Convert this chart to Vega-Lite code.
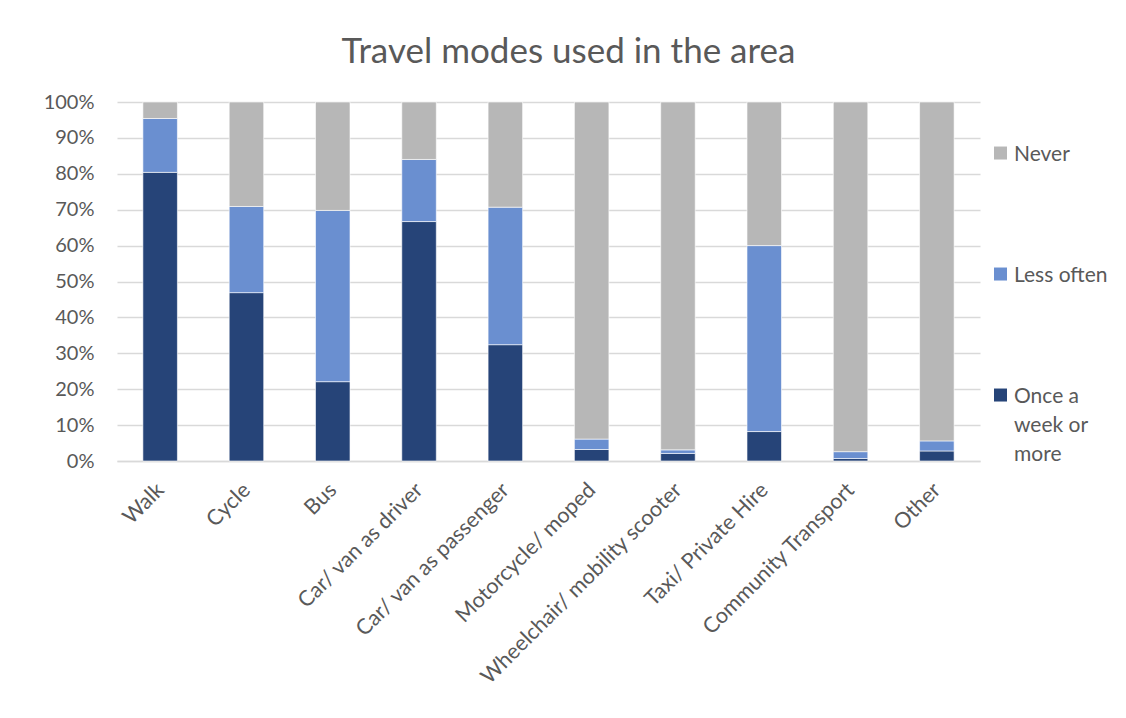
{
  "$schema": "https://vega.github.io/schema/vega-lite/v6.json",
  "autosize": {"type": "none"},
  "width": 863,
  "height": 359,
  "padding": {"left": 117, "top": 102, "right": 146, "bottom": 257},
  "background": "#ffffff",
  "title": {
    "text": "Travel modes used in the area",
    "font": "Lato",
    "fontSize": 35,
    "fontWeight": "normal",
    "color": "#595959",
    "anchor": "middle",
    "baseline": "alphabetic",
    "offset": 39,
    "dx": 20,
    "dy": 45
  },
  "data": {
    "values": [
      {"mode": "Walk", "frequency": "Once a week or more", "rank": 1, "share": 0.804},
      {"mode": "Walk", "frequency": "Less often", "rank": 2, "share": 0.150},
      {"mode": "Walk", "frequency": "Never", "rank": 3, "share": 0.046},
      {"mode": "Cycle", "frequency": "Once a week or more", "rank": 1, "share": 0.469},
      {"mode": "Cycle", "frequency": "Less often", "rank": 2, "share": 0.240},
      {"mode": "Cycle", "frequency": "Never", "rank": 3, "share": 0.291},
      {"mode": "Bus", "frequency": "Once a week or more", "rank": 1, "share": 0.221},
      {"mode": "Bus", "frequency": "Less often", "rank": 2, "share": 0.477},
      {"mode": "Bus", "frequency": "Never", "rank": 3, "share": 0.302},
      {"mode": "Car/ van as driver", "frequency": "Once a week or more", "rank": 1, "share": 0.667},
      {"mode": "Car/ van as driver", "frequency": "Less often", "rank": 2, "share": 0.173},
      {"mode": "Car/ van as driver", "frequency": "Never", "rank": 3, "share": 0.160},
      {"mode": "Car/ van as passenger", "frequency": "Once a week or more", "rank": 1, "share": 0.324},
      {"mode": "Car/ van as passenger", "frequency": "Less often", "rank": 2, "share": 0.383},
      {"mode": "Car/ van as passenger", "frequency": "Never", "rank": 3, "share": 0.293},
      {"mode": "Motorcycle/ moped", "frequency": "Once a week or more", "rank": 1, "share": 0.032},
      {"mode": "Motorcycle/ moped", "frequency": "Less often", "rank": 2, "share": 0.029},
      {"mode": "Motorcycle/ moped", "frequency": "Never", "rank": 3, "share": 0.939},
      {"mode": "Wheelchair/ mobility scooter", "frequency": "Once a week or more", "rank": 1, "share": 0.021},
      {"mode": "Wheelchair/ mobility scooter", "frequency": "Less often", "rank": 2, "share": 0.010},
      {"mode": "Wheelchair/ mobility scooter", "frequency": "Never", "rank": 3, "share": 0.969},
      {"mode": "Taxi/ Private Hire", "frequency": "Once a week or more", "rank": 1, "share": 0.082},
      {"mode": "Taxi/ Private Hire", "frequency": "Less often", "rank": 2, "share": 0.518},
      {"mode": "Taxi/ Private Hire", "frequency": "Never", "rank": 3, "share": 0.400},
      {"mode": "Community Transport", "frequency": "Once a week or more", "rank": 1, "share": 0.007},
      {"mode": "Community Transport", "frequency": "Less often", "rank": 2, "share": 0.019},
      {"mode": "Community Transport", "frequency": "Never", "rank": 3, "share": 0.974},
      {"mode": "Other", "frequency": "Once a week or more", "rank": 1, "share": 0.028},
      {"mode": "Other", "frequency": "Less often", "rank": 2, "share": 0.028},
      {"mode": "Other", "frequency": "Never", "rank": 3, "share": 0.944}
    ]
  },
  "mark": {"type": "bar", "stroke": "#ffffff", "strokeWidth": 1, "strokeOpacity": 0.6},
  "encoding": {
    "x": {
      "field": "mode",
      "type": "nominal",
      "sort": null,
      "scale": {"paddingInner": 0.6, "paddingOuter": 0.3},
      "axis": {
        "title": null,
        "labelAngle": -45,
        "labelFont": "Lato",
        "labelFontSize": 21.5,
        "labelColor": "#595959",
        "labelPadding": 18,
        "labelOffset": -7,
        "labelLimit": 400,
        "ticks": false,
        "tickSize": 0,
        "domainColor": "#d9d9d9",
        "domainWidth": 1.5,
        "grid": false
      }
    },
    "y": {
      "field": "share",
      "type": "quantitative",
      "stack": "zero",
      "scale": {"domain": [0, 1], "nice": false},
      "axis": {
        "title": null,
        "format": ".0%",
        "values": [0, 0.1, 0.2, 0.3, 0.4, 0.5, 0.6, 0.7, 0.8, 0.9, 1],
        "labelFont": "Lato",
        "labelFontSize": 20,
        "labelColor": "#595959",
        "labelPadding": 23,
        "ticks": false,
        "tickSize": 0,
        "domain": false,
        "gridColor": "#d9d9d9",
        "gridWidth": 1.5
      }
    },
    "color": {
      "field": "frequency",
      "type": "nominal",
      "sort": ["Never", "Less often", "Once a week or more"],
      "scale": {
        "domain": ["Never", "Less often", "Once a week or more"],
        "range": ["#b7b7b7", "#6a8fd0", "#264478"]
      },
      "legend": {
        "title": null,
        "orient": "none",
        "legendX": 873,
        "legendY": 48,
        "symbolType": "M-1,-2.15H1V-0.15H-1Z",
        "symbolSize": 169,
        "symbolStrokeWidth": 0,
        "labelFont": "Lato",
        "labelFontSize": 21,
        "labelColor": "#595959",
        "labelBaseline": "alphabetic",
        "labelOffset": 3,
        "rowPadding": 99,
        "labelExpr": "datum.label == 'Once a week or more' ? ['Once a', 'week or', 'more'] : datum.label"
      }
    },
    "order": {"field": "rank", "type": "quantitative", "sort": "ascending"}
  },
  "config": {
    "view": {"stroke": null},
    "style": {"guide-label": {"lineHeight": 29}}
  }
}
